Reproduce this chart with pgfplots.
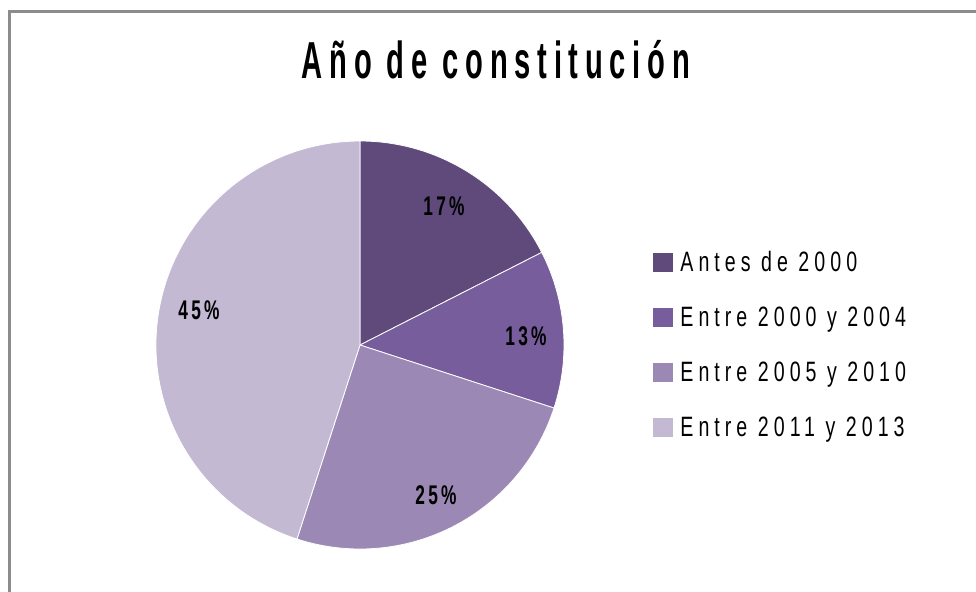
\documentclass[border=0pt]{standalone}
\usepackage{pgfplots}
\pgfplotsset{compat=1.18}
\usepackage{pgfplotstable}
\usepackage{fontspec}
\setmainfont{Liberation Sans}
\newfontfamily\titlefont{Liberation Sans}[FakeStretch=0.56,LetterSpace=13]
\newfontfamily\legfont{Liberation Sans}[FakeStretch=0.7,LetterSpace=18]
\newfontfamily\labfont{Liberation Sans}[FakeStretch=0.64,LetterSpace=12]
\definecolor{cA}{HTML}{604A7B}
\definecolor{cB}{HTML}{775D9B}
\definecolor{cC}{HTML}{9B88B4}
\definecolor{cD}{HTML}{C3B9D2}
\definecolor{framegray}{HTML}{8C8C8C}

\pgfplotstableread{
idx value
0 17.5
1 12.5
2 25
3 45
}\piedata

\begin{document}
\begin{tikzpicture}
\pgfplotstablegetelem{0}{value}\of\piedata \let\vA\pgfplotsretval
\pgfplotstablegetelem{1}{value}\of\piedata \let\vB\pgfplotsretval
\pgfplotstablegetelem{2}{value}\of\piedata \let\vC\pgfplotsretval
\pgfplotstablegetelem{3}{value}\of\piedata \let\vD\pgfplotsretval
\pgfmathsetmacro\aA{90}
\pgfmathsetmacro\aB{\aA-3.6*\vA}
\pgfmathsetmacro\aC{\aB-3.6*\vB}
\pgfmathsetmacro\aD{\aC-3.6*\vC}
\pgfmathsetmacro\aE{\aD-3.6*\vD}
\begin{axis}[width=488pt,height=295.5pt,scale only axis,
  xmin=0,xmax=976,ymin=0,ymax=591,y dir=reverse,hide axis,clip=false]
\fill[cA,draw=white,line width=0.4pt] (axis cs:360,345) -- ++(\aA:102pt) arc[start angle=\aA,end angle=\aB,radius=102pt] -- cycle;
\fill[cB,draw=white,line width=0.4pt] (axis cs:360,345) -- ++(\aB:102pt) arc[start angle=\aB,end angle=\aC,radius=102pt] -- cycle;
\fill[cC,draw=white,line width=0.4pt] (axis cs:360,345) -- ++(\aC:102pt) arc[start angle=\aC,end angle=\aD,radius=102pt] -- cycle;
\fill[cD,draw=white,line width=0.4pt] (axis cs:360,345) -- ++(\aD:102pt) arc[start angle=\aD,end angle=\aE,radius=102pt] -- cycle;

\node[anchor=base,inner sep=0,font=\labfont\bfseries\fontsize{13.5pt}{16pt}\selectfont] at (axis cs:444,215) {17\%};
\node[anchor=base,inner sep=0,font=\labfont\bfseries\fontsize{13.5pt}{16pt}\selectfont] at (axis cs:526,345) {13\%};
\node[anchor=base,inner sep=0,font=\labfont\bfseries\fontsize{13.5pt}{16pt}\selectfont] at (axis cs:436,504) {25\%};
\node[anchor=base,inner sep=0,font=\labfont\bfseries\fontsize{13.5pt}{16pt}\selectfont] at (axis cs:199,319) {45\%};

\node[anchor=base,inner sep=0,font=\titlefont\bfseries\fontsize{26pt}{30pt}\selectfont] at (axis cs:496,78) {Año de constitución};

\fill[cA] (axis cs:653,253) rectangle (axis cs:673,272);
\fill[cB] (axis cs:653,308) rectangle (axis cs:673,327);
\fill[cC] (axis cs:653,363) rectangle (axis cs:673,382);
\fill[cD] (axis cs:653,418) rectangle (axis cs:673,437);
\node[anchor=base west,inner sep=0,font=\legfont\fontsize{14pt}{16pt}\selectfont] at (axis cs:680,271) {Antes de 2000};
\node[anchor=base west,inner sep=0,font=\legfont\fontsize{14pt}{16pt}\selectfont] at (axis cs:680,326) {Entre 2000 y 2004};
\node[anchor=base west,inner sep=0,font=\legfont\fontsize{14pt}{16pt}\selectfont] at (axis cs:680,381) {Entre 2005 y 2010};
\node[anchor=base west,inner sep=0,font=\legfont\fontsize{14pt}{16pt}\selectfont] at (axis cs:680,436) {Entre 2011 y 2013};

\draw[framegray,line width=1.5pt] (axis cs:9.5,650) -- (axis cs:9.5,11.5) -- (axis cs:1010,11.5);
\end{axis}
\pgfresetboundingbox
\path (0,0) rectangle (488pt,295.5pt);
\end{tikzpicture}
\end{document}
